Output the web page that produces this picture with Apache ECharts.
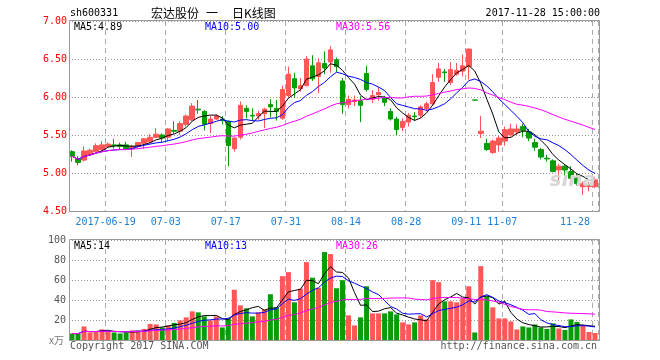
<!DOCTYPE html>
<html><head><meta charset="utf-8">
<script src="https://cdn.jsdelivr.net/npm/echarts@6/dist/echarts.min.js"></script>
<style>html,body{margin:0;padding:0;background:#fff}#c{width:660px;height:360px}</style>
</head><body><div id="c"></div><script>
const dates = [
'2017-06-09','2017-06-12','2017-06-13','2017-06-14','2017-06-15','2017-06-16','2017-06-19','2017-06-20','2017-06-21','2017-06-22','2017-06-23','2017-06-26','2017-06-27','2017-06-28','2017-06-29','2017-06-30',
'2017-07-03','2017-07-04','2017-07-05','2017-07-06','2017-07-07','2017-07-10','2017-07-11','2017-07-12','2017-07-13','2017-07-14','2017-07-17','2017-07-18','2017-07-19','2017-07-20','2017-07-21','2017-07-24','2017-07-25','2017-07-26','2017-07-27','2017-07-28','2017-07-31',
'2017-08-01','2017-08-02','2017-08-03','2017-08-04','2017-08-07','2017-08-08','2017-08-09','2017-08-10','2017-08-11','2017-08-14','2017-08-15','2017-08-16','2017-08-17','2017-08-18','2017-08-21','2017-08-22','2017-08-23','2017-08-24','2017-08-25','2017-08-28','2017-08-29','2017-08-30','2017-08-31',
'2017-09-01','2017-09-04','2017-09-05','2017-09-06','2017-09-07','2017-09-08','2017-09-11',
'2017-10-31','2017-11-01','2017-11-02','2017-11-03','2017-11-06','2017-11-07','2017-11-08','2017-11-09','2017-11-10','2017-11-13','2017-11-14','2017-11-15','2017-11-16','2017-11-17','2017-11-20','2017-11-21','2017-11-22','2017-11-23','2017-11-24','2017-11-27','2017-11-28'];
const opens = [5.28,5.19,5.17,5.24,5.28,5.31,5.35,5.37,5.37,5.37,5.32,5.35,5.39,5.41,5.47,5.50,5.47,5.56,5.55,5.64,5.70,5.84,5.81,5.65,5.71,5.71,5.68,5.32,5.47,5.85,5.76,5.75,5.78,5.90,5.85,5.72,6.02,6.24,6.11,6.15,6.41,6.27,6.44,6.46,6.49,6.21,5.90,5.94,5.95,6.31,5.97,6.03,5.99,5.81,5.71,5.60,5.67,5.75,5.76,5.85,5.91,6.26,6.33,6.19,6.30,6.34,6.40,5.96,5.52,5.39,5.27,5.37,5.42,5.50,5.54,5.61,5.54,5.40,5.31,5.195,5.16,5.04,5.09,5.02,4.95,4.82,4.82,4.82];
const closes = [5.22,5.14,5.29,5.30,5.36,5.37,5.38,5.36,5.35,5.32,5.35,5.40,5.45,5.47,5.51,5.46,5.58,5.55,5.65,5.75,5.88,5.83,5.64,5.71,5.75,5.69,5.36,5.46,5.89,5.81,5.75,5.78,5.84,5.87,5.81,6.10,6.30,6.12,6.15,6.50,6.24,6.45,6.38,6.62,6.40,5.90,5.97,5.96,5.89,6.10,6.02,6.06,5.93,5.71,5.57,5.68,5.76,5.74,5.87,5.91,6.19,6.37,6.32,6.36,6.35,6.41,6.63,5.96,5.55,5.31,5.42,5.46,5.57,5.58,5.58,5.56,5.46,5.34,5.21,5.185,5.02,5.09,5.04,4.93,4.86,4.86,4.85,4.91];
const lows = [5.15,5.10,5.15,5.23,5.27,5.29,5.33,5.32,5.31,5.30,5.21,5.33,5.32,5.40,5.46,5.40,5.42,5.52,5.50,5.61,5.68,5.78,5.56,5.52,5.70,5.64,5.09,5.28,5.44,5.72,5.69,5.70,5.59,5.73,5.69,5.70,6.00,5.99,6.07,6.14,6.21,6.05,6.30,6.32,6.33,5.78,5.85,5.88,5.67,6.07,5.92,5.95,5.88,5.69,5.50,5.55,5.61,5.69,5.72,5.81,5.89,6.20,6.20,6.16,6.28,6.27,6.23,5.96,5.46,5.29,5.25,5.28,5.36,5.48,5.50,5.47,5.42,5.29,5.18,5.15,5.01,4.86,4.93,4.85,4.83,4.71,4.76,4.80];
const highs = [5.30,5.22,5.35,5.32,5.39,5.42,5.40,5.45,5.40,5.41,5.37,5.41,5.46,5.51,5.59,5.52,5.59,5.68,5.68,5.77,5.92,5.96,5.83,5.75,5.77,5.75,5.69,5.47,5.94,5.89,5.85,5.82,5.86,5.97,5.96,6.15,6.40,6.32,6.25,6.54,6.55,6.51,6.60,6.67,6.52,6.25,6.02,6.02,6.01,6.41,6.09,6.13,6.01,5.85,5.74,5.72,5.79,5.80,5.89,5.94,6.30,6.45,6.37,6.46,6.45,6.56,6.64,5.96,5.75,5.45,5.44,5.49,5.61,5.65,5.64,5.65,5.58,5.45,5.33,5.24,5.18,5.12,5.11,5.09,4.99,4.89,4.88,4.95];
const volumes = [7,6.5,14,8,9,11,9,8,7,8,10,10,11.5,16.5,16,13,15,17.5,20,23,29,28,24,20,24,13,22,50.5,35,32,24,28,31,46,33,64,68,38,51.5,78,62.5,52.5,88,86,52,60,25,15,23,54,27,27,27,29,26,18,16,18,25,21,60,58,39,39,38,42,54,8,74,44,33,22,22,19,11,14,13,16,13,11.5,17,12,10.5,21,18.5,15,8.5,7.5];
const tickDates = ['2017-06-19','2017-07-03','2017-07-17','2017-07-31','2017-08-14','2017-08-28','2017-09-11','2017-11-07','2017-11-28'];
const tickLabels = ['2017-06-19','07-03','07-17','07-31','08-14','08-28','09-11','11-07','11-28'];
const priceMaTexts = ['MA5:4.89','MA10:5.00','MA30:5.56'];
const volMaTexts = ['MA5:14','MA10:13','MA30:26'];
const titleParts = ['宏达股份', '一', '日K线图'];

const UP = '#ff5656', DOWN = '#089c08';
const MONO = '"DejaVu Sans Mono", "Liberation Mono", monospace';
const CJK = '"Noto Sans CJK SC", sans-serif';
function ma(arr, n) {
  return arr.map((_, i) => {
    const s = Math.max(0, i - n + 1); let sum = 0;
    for (let j = s; j <= i; j++) sum += arr[j];
    return +(sum / (i - s + 1)).toFixed(3);
  });
}
const kdata = dates.map((d, i) => [opens[i], closes[i], lows[i], highs[i]]);
const vdata = volumes.map((v, i) => ({ value: v, itemStyle: { color: closes[i] > opens[i] ? UP : DOWN } }));
const isTick = (v) => tickDates.indexOf(v) >= 0;
const splitX = { show: true, interval: (i, v) => isTick(v), lineStyle: { color: '#aaa', type: [5, 4], width: 1 } };

const chart = echarts.init(document.getElementById('c'), null, { renderer: 'canvas' });
const maColors = ['#000000', '#0000ff', '#ff00ff'];
const txt = (x, y, s, color, align, font) => ({ type: 'text', x, y, z: 110, style: { text: s, fill: color, font: font || ('10px ' + MONO), textAlign: align || 'left', textVerticalAlign: 'middle' } });

chart.setOption({
  animation: false,
  backgroundColor: '#fff',
  grid: [
    { left: 69, right: 62, top: 21, height: 190, outerBoundsMode: 'none' },
    { left: 69, right: 62, top: 240, height: 100.5, outerBoundsMode: 'none' }
  ],
  xAxis: [
    { type: 'category', gridIndex: 0, data: dates, boundaryGap: true,
      axisLine: { show: false }, axisTick: { show: false },
      axisLabel: { interval: 0, color: '#1f7fd6', fontFamily: MONO, fontSize: 10, margin: 6, alignMaxLabel: 'right', padding: [0, 5, 0, 0],
        formatter: (v) => { const k = tickDates.indexOf(v); return k >= 0 ? tickLabels[k] : ''; } },
      splitLine: splitX },
    { type: 'category', gridIndex: 1, data: dates, boundaryGap: true,
      axisLine: { show: false }, axisTick: { show: false }, axisLabel: { show: false },
      splitLine: splitX }
  ],
  yAxis: [
    { type: 'value', gridIndex: 0, min: 4.5, max: 7, interval: 0.5,
      axisLine: { show: false }, axisTick: { show: false },
      axisLabel: { color: '#ff0000', fontFamily: MONO, fontSize: 10, margin: 2, formatter: (v) => v.toFixed(2) },
      splitLine: { show: true, lineStyle: { color: '#999', type: [1, 2] } } },
    { type: 'value', gridIndex: 1, min: 0, max: 100, interval: 20,
      axisLine: { show: false }, axisTick: { show: false },
      axisLabel: { color: '#555', fontFamily: MONO, fontSize: 10, margin: 3, formatter: (v) => v === 0 ? '' : String(v) },
      splitLine: { show: true, lineStyle: { color: '#999', type: [1, 2] } } }
  ],
  series: [
    { type: 'candlestick', xAxisIndex: 0, yAxisIndex: 0, data: kdata, barWidth: 5,
      itemStyle: { color: UP, color0: DOWN, borderColor: UP, borderColor0: DOWN, borderColorDoji: DOWN, borderWidth: 1 } },
    { type: 'line', xAxisIndex: 0, yAxisIndex: 0, data: ma(closes, 5), symbol: 'none', lineStyle: { color: maColors[0], width: 1 }, z: 5 },
    { type: 'line', xAxisIndex: 0, yAxisIndex: 0, data: ma(closes, 10), symbol: 'none', lineStyle: { color: maColors[1], width: 1 }, z: 5 },
    { type: 'line', xAxisIndex: 0, yAxisIndex: 0, data: ma(closes, 30), symbol: 'none', lineStyle: { color: maColors[2], width: 1 }, z: 5 },
    { type: 'bar', xAxisIndex: 1, yAxisIndex: 1, data: vdata, barWidth: 5 },
    { type: 'line', xAxisIndex: 1, yAxisIndex: 1, data: ma(volumes, 5), symbol: 'none', lineStyle: { color: maColors[0], width: 1 }, z: 5 },
    { type: 'line', xAxisIndex: 1, yAxisIndex: 1, data: ma(volumes, 10), symbol: 'none', lineStyle: { color: maColors[1], width: 1 }, z: 5 },
    { type: 'line', xAxisIndex: 1, yAxisIndex: 1, data: ma(volumes, 30), symbol: 'none', lineStyle: { color: maColors[2], width: 1 }, z: 5 }
  ],
  graphic: [
    { type: 'rect', z: 100, shape: { x: 69.5, y: 20.5, width: 530, height: 191 }, style: { fill: 'none', stroke: '#999', lineWidth: 1 } },
    { type: 'rect', z: 100, shape: { x: 69.5, y: 239.5, width: 530, height: 101 }, style: { fill: 'none', stroke: '#999', lineWidth: 1 } },
    txt(70, 13, 'sh600331', '#000'),
    txt(151, 13, titleParts[0], '#000', 'left', '12px ' + CJK),
    txt(206, 13, titleParts[1], '#000', 'left', '12px ' + CJK),
    txt(232, 13, titleParts[2], '#000', 'left', '12px ' + CJK),
    txt(600, 13, '2017-11-28 15:00:00', '#000', 'right'),
    txt(74, 27, priceMaTexts[0], maColors[0]),
    txt(205, 27, priceMaTexts[1], maColors[1]),
    txt(336, 27, priceMaTexts[2], maColors[2]),
    txt(74, 246.5, volMaTexts[0], maColors[0]),
    txt(205, 246.5, volMaTexts[1], maColors[1]),
    txt(336, 246.5, volMaTexts[2], maColors[2]),
    txt(64, 340, 'x万', '#777', 'right', '10px ' + CJK),
    txt(70, 346, 'Copyright 2017 SINA.COM', '#555'),
    txt(597, 346, 'http://finance.sina.com.cn', '#555', 'right'),
    txt(596, 181, 'sina', '#d6d6d6', 'right', 'italic bold 20px "DejaVu Sans", sans-serif')
  ]
});
</script></body></html>
